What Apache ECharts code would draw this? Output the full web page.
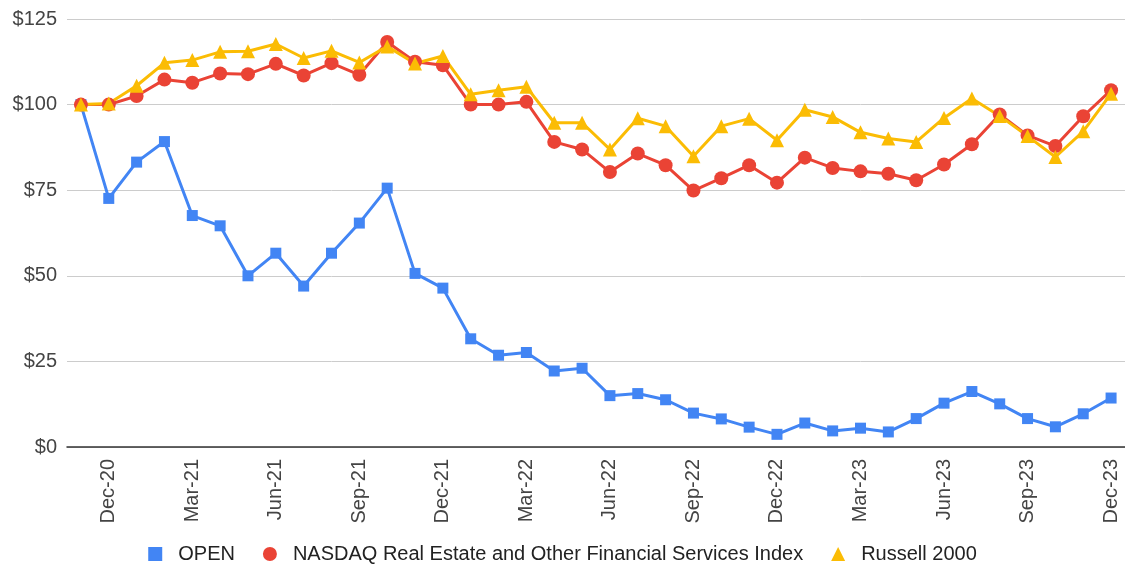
<!DOCTYPE html>
<html>
<head>
<meta charset="utf-8">
<script src="https://cdn.jsdelivr.net/npm/echarts@6/dist/echarts.min.js"></script>
<style>
html,body{margin:0;padding:0;background:#fff;}
#chart{width:1125px;height:572px;}
</style>
</head>
<body>
<div id="chart"></div>
<script>
const categories = ['Nov-20','Dec-20','Jan-21','Feb-21','Mar-21','Apr-21','May-21','Jun-21','Jul-21','Aug-21','Sep-21','Oct-21','Nov-21','Dec-21','Jan-22','Feb-22','Mar-22','Apr-22','May-22','Jun-22','Jul-22','Aug-22','Sep-22','Oct-22','Nov-22','Dec-22','Jan-23','Feb-23','Mar-23','Apr-23','May-23','Jun-23','Jul-23','Aug-23','Sep-23','Oct-23','Nov-23','Dec-23'];
const openValues = [100, 72.6, 83.2, 89.2, 67.6, 64.6, 50, 56.6, 47, 56.6, 65.4, 75.6, 50.7, 46.4, 31.6, 26.8, 27.6, 22.2, 23, 15, 15.6, 13.8, 9.9, 8.2, 5.8, 3.7, 7, 4.7, 5.5, 4.4, 8.3, 12.8, 16.2, 12.6, 8.3, 5.9, 9.7, 14.3];
const nasdaqValues = [100, 100, 102.5, 107.3, 106.4, 109.1, 108.9, 111.9, 108.5, 112.1, 108.7, 118.3, 112.5, 111.5, 100, 100, 100.8, 89.1, 86.9, 80.3, 85.7, 82.3, 74.9, 78.5, 82.3, 77.2, 84.5, 81.5, 80.5, 79.8, 77.9, 82.5, 88.4, 97.1, 91, 87.9, 96.6, 104.2];
const russellValues = [100, 100.3, 105.5, 112.2, 113, 115.4, 115.6, 117.7, 113.6, 115.7, 112.3, 117, 112, 114.2, 103, 104.2, 105.2, 94.7, 94.7, 86.9, 96, 93.7, 84.9, 93.7, 95.9, 89.6, 98.5, 96.4, 91.9, 90.1, 89.1, 96.1, 101.8, 96.7, 90.8, 84.7, 92.2, 103.2];
const seriesNames = ['OPEN', 'NASDAQ Real Estate and Other Financial Services Index', 'Russell 2000'];
const yTicks = [0, 25, 50, 75, 100, 125];

const FONT = '"Liberation Sans", Arial, sans-serif';
const chart = echarts.init(document.getElementById('chart'), null, {renderer: 'canvas'});
chart.setOption({
  animation: false,
  backgroundColor: '#ffffff',
  grid: {left: 67, right: 0, top: 19, bottom: 125, containLabel: false},
  legend: {
    bottom: 3,
    left: 'center',
    itemWidth: 14,
    itemHeight: 14,
    itemGap: 28,
    textStyle: {fontFamily: FONT, fontSize: 20, color: '#222', padding: [0, 0, 0, 11]},
    data: [
      {name: seriesNames[0], icon: 'rect'},
      {name: seriesNames[1], icon: 'circle'},
      {name: seriesNames[2], icon: 'triangle'}
    ]
  },
  xAxis: {
    type: 'category',
    data: categories,
    boundaryGap: true,
    axisLine: {lineStyle: {color: '#333', width: 1.5}},
    axisTick: {show: false},
    axisLabel: {
      rotate: 90,
      margin: 12,
      fontFamily: FONT,
      fontSize: 20,
      color: '#444',
      interval: function (index) { return index % 3 === 1; }
    },
    splitLine: {show: false}
  },
  yAxis: {
    type: 'value',
    min: yTicks[0],
    max: yTicks[yTicks.length - 1],
    interval: 25,
    axisLine: {show: false},
    axisTick: {show: false},
    axisLabel: {
      margin: 10,
      fontFamily: FONT,
      fontSize: 20,
      color: '#444',
      formatter: function (v) { return '$' + v; }
    },
    splitLine: {lineStyle: {color: '#cccccc', width: 1}}
  },
  series: [
    {
      name: seriesNames[0], type: 'line', data: openValues,
      symbol: 'rect', symbolSize: 11,
      lineStyle: {color: '#4285F4', width: 3},
      itemStyle: {color: '#4285F4'}
    },
    {
      name: seriesNames[1], type: 'line', data: nasdaqValues,
      symbol: 'circle', symbolSize: 14,
      lineStyle: {color: '#EA4335', width: 3},
      itemStyle: {color: '#EA4335'}
    },
    {
      name: seriesNames[2], type: 'line', data: russellValues,
      symbol: 'triangle', symbolSize: 14,
      lineStyle: {color: '#FBBC04', width: 3},
      itemStyle: {color: '#FBBC04'}
    }
  ]
});
</script>
</body>
</html>
